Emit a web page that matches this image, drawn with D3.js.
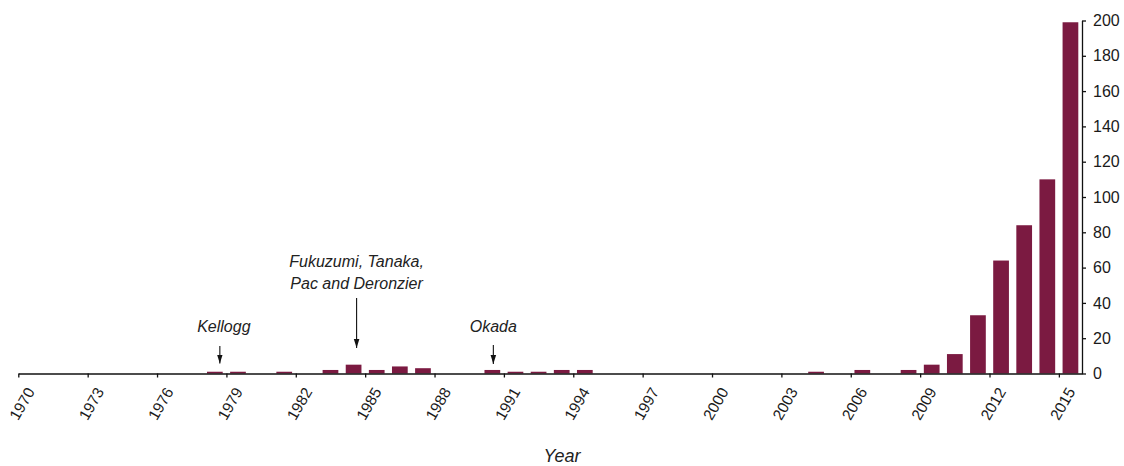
<!DOCTYPE html>
<html>
<head>
<meta charset="utf-8">
<script src="https://cdn.jsdelivr.net/npm/d3@7"></script>
<style>
  body { margin: 0; background: #fff; }
  svg { display: block; font-family: "Liberation Sans", Arial, sans-serif; }
  .axis path, .axis line { stroke: #111; stroke-width: 1.3; }
  .axis text { fill: #1a1a1a; }
</style>
</head>
<body>
<div id="chart"></div>
<script>
// publications per year
const years = d3.range(1970, 2016);
const counts = [
  0, 0, 0, 0, 0, 0, 0, 0, 1, 1,      // 1970-1979
  0, 1, 0, 2, 5, 2, 4, 3, 0, 0,      // 1980-1989
  2, 1, 1, 2, 2, 0, 0, 0, 0, 0,      // 1990-1999
  0, 0, 0, 0, 1, 0, 2, 0, 2, 5,      // 2000-2009
  11, 33, 64, 84, 110, 199           // 2010-2015
];
const xTickYears = d3.range(1970, 2016, 3);
const yTicks = d3.range(0, 201, 20);
const noteYears = [1978, 1984, 1990];
const noteLabels = [["Kellogg"], ["Fukuzumi, Tanaka,", "Pac and Deronzier"], ["Okada"]];

const barColor = '#7b1a41';

function chart() {
    const W = 1124, H = 466;
    const margin = {top: 20.5, right: 42, bottom: 92.5, left: 18.3};
    const width = W - margin.left - margin.right;
    const height = H - margin.top - margin.bottom;

    const svg = d3.select("#chart")
        .append("svg")
        .attr("width", W)
        .attr("height", H)
        .append("g")
        .attr("transform", `translate(${margin.left}, ${margin.top})`);

    const data = years.map((y, i) => ({year: y, value: counts[i]}));

    // bands for bars, linear year scale for the tick positions (ticks sit on band edges)
    const x = d3.scaleBand()
        .domain(years)
        .range([0, width])
        .paddingInner(0.32)
        .paddingOuter(0.16);
    const xEdge = d3.scaleLinear()
        .domain([1970, 2016])
        .range([0, width]);
    const y = d3.scaleLinear()
        .domain([0, 200])
        .range([height, 0]);

    // bars
    svg.selectAll("rect.bar")
        .data(data.filter(d => d.value > 0))
        .enter()
        .append("rect")
        .attr("class", "bar")
        .attr("x", d => x(d.year))
        .attr("width", x.bandwidth())
        .attr("y", d => y(d.value))
        .attr("height", d => height - y(d.value))
        .attr("fill", barColor);

    // x axis
    const gx = svg.append("g")
        .attr("class", "axis")
        .attr("transform", `translate(0, ${height})`)
        .call(d3.axisBottom(xEdge).tickValues(xTickYears).tickFormat(d3.format("d"))
            .tickSize(4).tickSizeOuter(0));
    gx.selectAll("text")
        .attr("x", 0).attr("y", 0).attr("dy", 0)
        .style("text-anchor", "end")
        .style("font-size", "15.5px")
        .attr("transform", "translate(16.5, 18) rotate(-60)");

    // y axis on the right
    svg.append("g")
        .attr("class", "axis")
        .attr("transform", `translate(${width}, 0)`)
        .call(d3.axisRight(y).tickValues(yTicks).tickSize(4).tickPadding(7).tickSizeOuter(0))
        .selectAll("text")
        .style("font-size", "16px");

    // axis title
    svg.append("text")
        .attr("x", xEdge(1994) - margin.left + 7)
        .attr("y", height + 88)
        .attr("text-anchor", "middle")
        .style("font-size", "18px")
        .style("font-style", "italic")
        .attr("fill", "#222")
        .text("Year");

    // arrow head
    svg.append("defs").append("marker")
        .attr("id", "head")
        .attr("viewBox", "0 0 10 10")
        .attr("refX", 10).attr("refY", 5)
        .attr("markerWidth", 9).attr("markerHeight", 7)
        .attr("markerUnits", "userSpaceOnUse")
        .attr("orient", "auto")
        .attr("preserveAspectRatio", "none")
        .append("path")
        .attr("d", "M0,1L10,5L0,9Z")
        .attr("fill", "#111");

    // annotations: arrow start/end heights and small horizontal nudges are styling
    const arrowTop = [325.5, 277.5, 324.5];
    const arrowEnd = [343, 327.5, 343.5];
    const nudge = [5, 3, 1];
    const textBase = [311, 246.8, 311];

    noteYears.forEach((yr, i) => {
        const cx = x(yr) + x.bandwidth() / 2 + nudge[i];
        svg.append("line")
            .attr("x1", cx).attr("x2", cx)
            .attr("y1", arrowTop[i]).attr("y2", arrowEnd[i])
            .attr("stroke", "#111")
            .attr("stroke-width", 1.1)
            .attr("marker-end", "url(#head)");
        const t = svg.append("text")
            .attr("text-anchor", "middle")
            .style("font-size", "16px")
            .style("font-style", "italic")
            .attr("fill", "#222");
        noteLabels[i].forEach((line, j) => {
            t.append("tspan")
                .attr("x", cx + (i === 0 ? 4 : 0))
                .attr("y", textBase[i] + j * 22)
                .text(line);
        });
    });
}

function main() {
    chart();
}

main();
</script>
</body>
</html>
